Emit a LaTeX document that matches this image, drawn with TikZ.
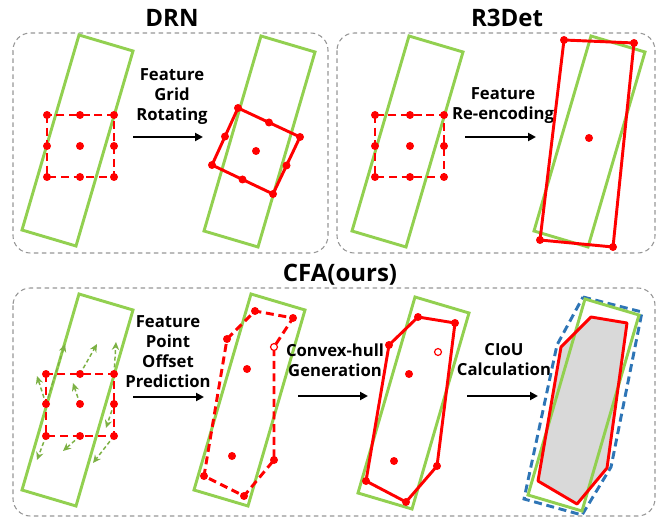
\documentclass[tikz,border=0pt]{standalone}
\usepackage{fontspec}
\setmainfont{Open Sans}
\usetikzlibrary{arrows.meta}
\definecolor{gr}{RGB}{146,208,80}
\definecolor{bl}{RGB}{46,117,182}
\definecolor{dg}{RGB}{150,150,150}
\definecolor{fillg}{RGB}{217,217,217}
\begin{document}
\begin{tikzpicture}[x=0.75pt,y=-0.75pt,
  panel/.style={draw=dg, line width=0.8pt, dash pattern=on 3.5pt off 2.5pt, rounded corners=13pt},
  gbox/.style={draw=gr, line width=2.2pt, line join=miter},
  rdash/.style={draw=red, line width=2.2pt, dash pattern=on 6pt off 3.5pt, line join=round},
  rsolid/.style={draw=red, line width=2.2pt, line join=round},
  bdash/.style={draw=bl, line width=2.2pt, dash pattern=on 6pt off 3.5pt},
  garrow/.style={draw=gr!85!black, line width=1.1pt, dash pattern=on 3pt off 2pt, -{Stealth[length=6pt,width=5.5pt]}},
  karrow/.style={draw=black, line width=1.7pt, -{Triangle[length=6pt,width=6pt]}},
  lbl/.style={align=center, inner sep=0pt, font=\bfseries\fontsize{12.5}{15}\selectfont},
  ttl/.style={inner sep=0pt, font=\bfseries\fontsize{18}{21}\selectfont},
  rdot/.style={fill=red},
]
\useasboundingbox (0,0) rectangle (664,527);

% panels
\draw[panel] (13,33) rectangle (328,253);
\draw[panel] (337,33) rectangle (655,253);
\draw[panel] (13,288) rectangle (655,516);

% titles
\node[ttl] (tdrn) at (172,18) {DRN};
\node[ttl] (tr3) at (507,18) {R3Det};
\node[ttl] (tcfa) at (340,275) {CFA(ours)};

% ---------- DRN ----------
\draw[gbox] (79,35) -- (133,51) -- (76,246) -- (22,230) -- cycle;
\draw[rdash] (47,115) rectangle (114,177);
\foreach \x in {47,80,114} \foreach \y in {115,146,177} \fill[red] (\x,\y) circle (3pt);
\node[lbl] (ldrn) at (172,97) {Feature\\Grid\\Rotating};
\coordinate (a1s) at (133,137); \coordinate (a1e) at (203,137);
\draw[karrow] (a1s) -- (a1e);
\draw[gbox] (261,36) -- (315,52) -- (258,247) -- (204,231) -- cycle;
\draw[rsolid] (238,108) -- (300,137) -- (273,194) -- (212,165) -- cycle;
\foreach \p in {(238,108),(300,137),(273,194),(212,165),(269,122.5),(286.5,165.5),(242.5,179.5),(225,136.5),(256,151)}
  \fill[red] \p circle (3pt);

% ---------- R3Det ----------
\draw[gbox] (409,36) -- (463,52) -- (406,247) -- (352,231) -- cycle;
\draw[rdash] (375,115) rectangle (444,177);
\foreach \x in {375,410,444} \foreach \y in {115,146,177} \fill[red] (\x,\y) circle (3pt);
\node[lbl] (lr3) at (503,106) {Feature\\Re-encoding};
\coordinate (a2s) at (465,137); \coordinate (a2e) at (536,137);
\draw[karrow] (a2s) -- (a2e);
\draw[gbox] (591,36) -- (645,52) -- (588,247) -- (534,231) -- cycle;
\draw[rsolid] (564,40) -- (634,43) -- (613,247) -- (540,240) -- cycle;
\foreach \p in {(564,40),(634,43),(613,247),(540,240),(589,138)}
  \fill[red] \p circle (3pt);

% ---------- CFA panel 1 ----------
\draw[gbox] (79,294) -- (133,310) -- (76,506) -- (22,490) -- cycle;
\draw[garrow] (46,404) -- (37,376);
\draw[garrow] (46,404) -- (65,344);
\draw[garrow] (80,374) -- (97,344);
\draw[garrow] (114,374) -- (116,342);
\draw[garrow] (80,404) -- (73,383);
\draw[garrow] (114,404) -- (106,428);
\draw[garrow] (46,436) -- (37,460);
\draw[garrow] (80,436) -- (63,451);
\draw[garrow] (114,436) -- (93,463);
\draw[rdash] (46,374) rectangle (114,436);
\foreach \x in {46,80,114} \foreach \y in {374,404,436} \fill[red] (\x,\y) circle (3pt);
\node[lbl] (lc1) at (168,352) {Feature\\Point\\Offset\\Prediction};
\coordinate (b1s) at (133,397); \coordinate (b1e) at (204,397);
\draw[karrow] (b1s) -- (b1e);

% ---------- CFA panel 2 ----------
\draw[gbox] (251,294) -- (305,310) -- (248,506) -- (194,490) -- cycle;
\draw[rdash] (227,339) -- (255,311) -- (293,318) -- (274,347) -- (274,460) -- (244,496) -- (204,476) -- cycle;
\foreach \p in {(227,339),(255,311),(293,318),(274,460),(244,496),(204,476),(247,369),(232,456)}
  \fill[red] \p circle (3pt);
\draw[red, fill=white, line width=0.9pt] (274,347) circle (2.6pt);
\node[lbl] (lc2) at (335,360) {Convex-hull\\Generation};
\coordinate (b2s) at (298,396); \coordinate (b2e) at (368,396);
\draw[karrow] (b2s) -- (b2e);

% ---------- CFA panel 3 ----------
\draw[gbox] (415,297) -- (469,313) -- (412,509) -- (358,493) -- cycle;
\draw[rsolid] (389,345) -- (418,317) -- (455,323) -- (437,466) -- (406,502) -- (366,481) -- cycle;
\foreach \p in {(389,345),(418,317),(455,323),(437,466),(406,502),(366,481),(409,374),(394,461)}
  \fill[red] \p circle (3pt);
\draw[red, fill=white, line width=0.9pt] (438,352) circle (2.6pt);
\node[lbl] (lc3) at (504,360) {CIoU\\Calculation};
\coordinate (b3s) at (467,396); \coordinate (b3e) at (538,396);
\draw[karrow] (b3s) -- (b3e);

% ---------- CFA panel 4 ----------
\fill[fillg] (561,347) -- (591,317) -- (627,323) -- (607,468) -- (577,504) -- (538,481) -- cycle;
\draw[bdash] (583,297) -- (642,312) -- (611,467) -- (582,515) -- (524,499) -- (557,345) -- cycle;
\draw[gbox] (585,299) -- (639,315) -- (582,511) -- (528,495) -- cycle;
\draw[rsolid] (561,347) -- (591,317) -- (627,323) -- (607,468) -- (577,504) -- (538,481) -- cycle;
\end{tikzpicture}
\end{document}
